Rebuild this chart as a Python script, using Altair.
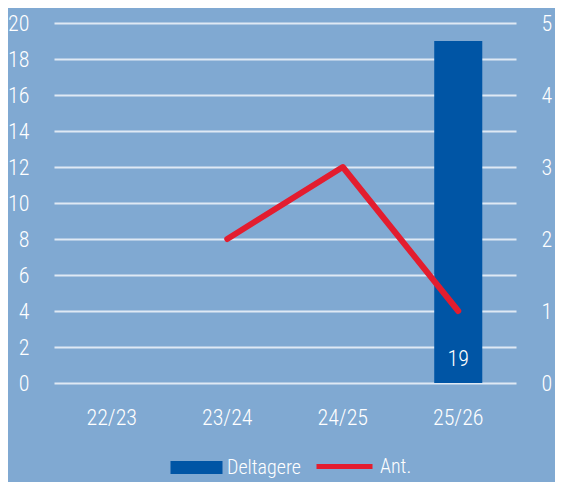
import altair as alt
import pandas as pd

seasons = ["22/23", "23/24", "24/25", "25/26"]
deltagere = [None, None, None, 19]
ant = [None, 2, 3, 1]

BG = "#80a9d2"
BLUE = "#0055a5"
RED = "#e31d2f"
FONT = "Roboto Condensed, Roboto, sans-serif"
FS = 22
LFS = 20

bar_df = pd.DataFrame(
    [{"season": s, "Deltagere": v, "zero": 0, "series": "Deltagere"}
     for s, v in zip(seasons, deltagere) if v is not None]
)
line_df = pd.DataFrame(
    [{"season": s, "Ant": v, "serie2": "Ant."} for s, v in zip(seasons, ant) if v is not None]
)

x_enc = alt.X(
    "season:N",
    scale=alt.Scale(domain=seasons, paddingInner=0.584, paddingOuter=0.292),
    axis=alt.Axis(title=None, labelAngle=0, domain=False, ticks=False, labelPadding=24),
)

left_scale = alt.Scale(domain=[0, 20], nice=False)
left_axis = alt.Axis(title=None, values=list(range(0, 21, 2)), domain=False, ticks=False,
                     grid=True, labelPadding=25, labelOverlap=False, labelFlush=False)

bar = alt.Chart(bar_df).mark_bar().encode(
    x=x_enc,
    y=alt.Y("Deltagere:Q", scale=left_scale, axis=left_axis),
    color=alt.Color(
        "series:N",
        scale=alt.Scale(domain=["Deltagere"], range=[BLUE]),
        legend=alt.Legend(title=None, orient="none", legendX=132.5, legendY=434.5,
                          symbolType="M-4,-1H4V1H-4Z", symbolSize=169, symbolStrokeWidth=0,
                          symbolOpacity=1, labelOffset=20.5),
    ),
)

text = alt.Chart(bar_df).mark_text(
    color="white", dy=-24, baseline="middle", fontSize=FS, font=FONT, fontWeight=300
).encode(
    x=x_enc,
    y=alt.Y("zero:Q", scale=left_scale, axis=left_axis),
    text=alt.Text("Deltagere:Q"),
)

line = alt.Chart(line_df).mark_line(strokeWidth=6, strokeCap="round", strokeJoin="round").encode(
    x=x_enc,
    y=alt.Y(
        "Ant:Q",
        scale=alt.Scale(domain=[0, 5], nice=False),
        axis=alt.Axis(title=None, orient="right", values=list(range(0, 6)), domain=False, ticks=False,
                      grid=False, labelPadding=25, labelOverlap=False, labelFlush=False),
    ),
    stroke=alt.Stroke(
        "serie2:N",
        scale=alt.Scale(domain=["Ant."], range=[RED]),
        legend=alt.Legend(title=None, orient="none", legendX=260, legendY=413,
                          symbolType="stroke", symbolSize=3136, symbolStrokeWidth=5, labelOffset=5),
    ),
)

chart = (
    alt.layer(alt.layer(bar, text), line)
    .resolve_scale(y="independent")
    .properties(
        width=462,
        height=360,
        padding={"left": 46, "top": 15, "right": 39, "bottom": 99},
        autosize=alt.AutoSizeParams(type="none"),
        background=BG,
    )
    .configure_view(stroke=None)
    .configure_axis(
        labelFont=FONT, labelFontSize=FS, labelColor="white", labelFontWeight=300,
        gridColor="white", gridOpacity=0.75, gridWidth=2,
    )
    .configure_legend(labelFont=FONT, labelFontSize=LFS, labelColor="white", labelFontWeight=300)
)

chart.save("out.html", embed_options={"renderer": "svg", "actions": False})
